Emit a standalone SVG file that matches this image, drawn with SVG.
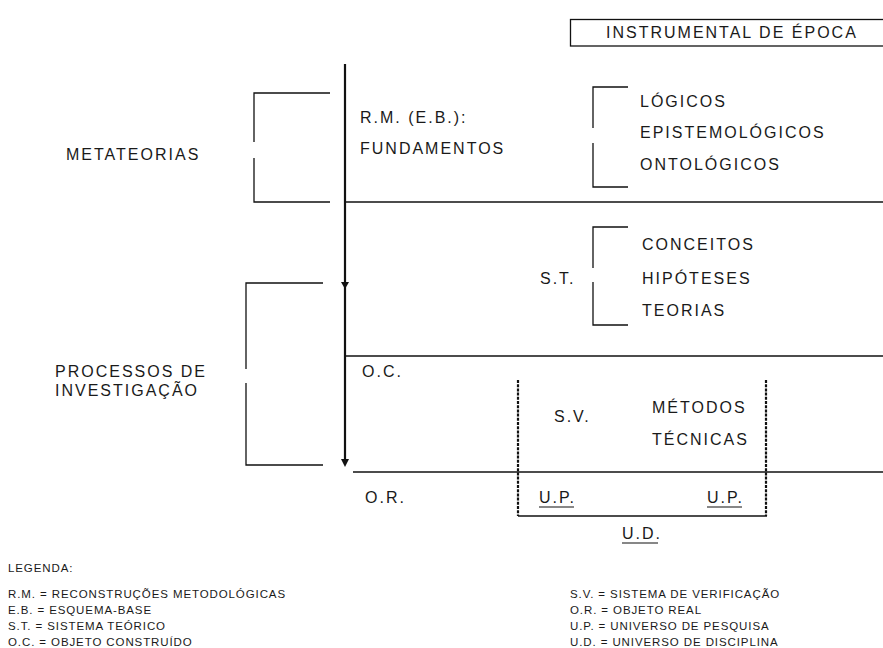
<svg xmlns="http://www.w3.org/2000/svg" width="883" height="648" viewBox="0 0 883 648">
<style>
text{font-family:"Liberation Sans",Arial,sans-serif;fill:#1a1a1a}
.m{font-size:16px;letter-spacing:2px}
.l{font-size:11.5px;letter-spacing:0.9px}
.ln{stroke:#111;stroke-width:1.3;fill:none}
.ds{stroke:#111;stroke-width:2.2;stroke-dasharray:3 1.2;fill:none}
.ul{stroke:#111;stroke-width:1.2}
</style>
<rect width="883" height="648" fill="#fff"/>
<g id="instrumental">
<rect x="570.5" y="19.5" width="320" height="26.5" class="ln"/>
<text class="m" x="606" y="38">INSTRUMENTAL DE ÉPOCA</text>
</g>
<g id="connectors">
<line x1="345" y1="64" x2="345" y2="462" stroke="#111" stroke-width="2.2"/>
<polygon points="341,282 349,282 345,289" fill="#111"/>
<polygon points="341,459 349,459 345,467" fill="#111"/>
<line x1="345" y1="202" x2="883" y2="202" class="ln"/>
<line x1="345" y1="356" x2="883" y2="356" class="ln"/>
<line x1="353" y1="472" x2="883" y2="472" class="ln"/>
</g>
<g id="metateorias">
<path class="ln" d="M330,93 H254 V142 M254,158 V202 H330"/>
<text class="m" x="66" y="160">METATEORIAS</text>
</g>
<g id="fundamentos">
<text class="m" x="360" y="123">R.M. (E.B.):</text>
<text class="m" x="360" y="154">FUNDAMENTOS</text>
</g>
<g id="fundamentos-lista">
<path class="ln" d="M628,87 H593 V128 M593,143 V187 H628"/>
<text class="m" x="640" y="107">LÓGICOS</text>
<text class="m" x="640" y="138">EPISTEMOLÓGICOS</text>
<text class="m" x="640" y="170">ONTOLÓGICOS</text>
</g>
<g id="processos">
<path class="ln" d="M323,283 H246 V369 M246,383 V465 H323"/>
<text class="m" x="55" y="377">PROCESSOS DE</text>
<text class="m" x="55" y="396">INVESTIGAÇÃO</text>
</g>
<g id="sistema-teorico">
<text class="m" x="540" y="284">S.T.</text>
<path class="ln" d="M628,227 H593 V268 M593,282 V325 H628"/>
<text class="m" x="642" y="250">CONCEITOS</text>
<text class="m" x="642" y="284">HIPÓTESES</text>
<text class="m" x="642" y="316">TEORIAS</text>
</g>
<g id="objeto-construido">
<text class="m" x="362" y="377">O.C.</text>
</g>
<g id="sistema-verificacao">
<line x1="518" y1="380" x2="518" y2="516" class="ds"/>
<line x1="766" y1="380" x2="766" y2="516" class="ds"/>
<line x1="518" y1="516" x2="767" y2="516" class="ln"/>
<text class="m" x="554" y="422">S.V.</text>
<text class="m" x="652" y="413">MÉTODOS</text>
<text class="m" x="652" y="445">TÉCNICAS</text>
</g>
<g id="objeto-real">
<text class="m" x="365" y="503">O.R.</text>
<text class="m" x="539" y="503">U.P.</text>
<line x1="539" y1="507" x2="574" y2="507" class="ul"/>
<text class="m" x="707" y="503">U.P.</text>
<line x1="707" y1="507" x2="742" y2="507" class="ul"/>
<text class="m" x="622" y="539">U.D.</text>
<line x1="622" y1="543" x2="658" y2="543" class="ul"/>
</g>
<g id="legenda">
<text class="l" x="8" y="572">LEGENDA:</text>
<text class="l" x="8" y="598">R.M. = RECONSTRUÇÕES METODOLÓGICAS</text>
<text class="l" x="8" y="614">E.B. = ESQUEMA-BASE</text>
<text class="l" x="8" y="630">S.T. = SISTEMA TEÓRICO</text>
<text class="l" x="8" y="646">O.C. = OBJETO CONSTRUÍDO</text>
<text class="l" x="570" y="598">S.V. = SISTEMA DE VERIFICAÇÃO</text>
<text class="l" x="570" y="614">O.R. = OBJETO REAL</text>
<text class="l" x="570" y="630">U.P. = UNIVERSO DE PESQUISA</text>
<text class="l" x="570" y="646">U.D. = UNIVERSO DE DISCIPLINA</text>
</g>
</svg>
